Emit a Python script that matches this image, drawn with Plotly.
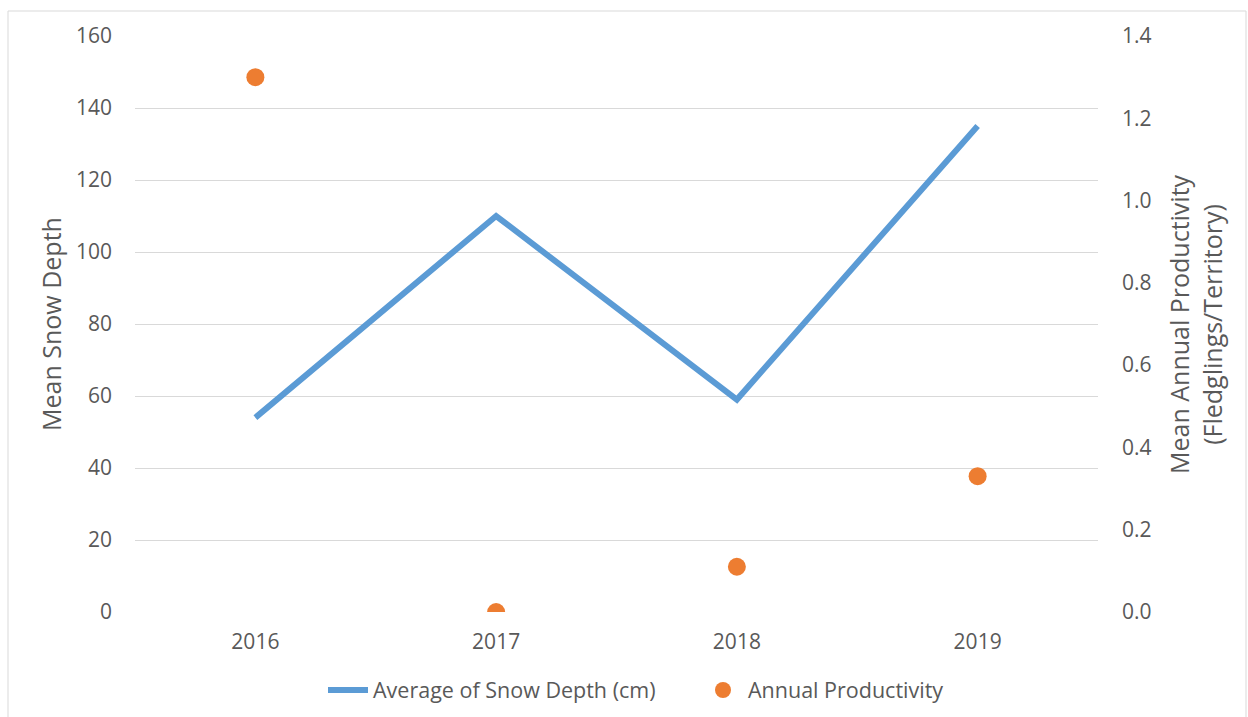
import plotly.graph_objects as go

# Survey years and measurements
years = ["2016", "2017", "2018", "2019"]
snow_depth_cm = [54, 110, 59, 135]
productivity = [1.30, 0.00, 0.11, 0.33]

left_ticks = [0, 20, 40, 60, 80, 100, 120, 140, 160]
right_ticks = [0.0, 0.2, 0.4, 0.6, 0.8, 1.0, 1.2, 1.4]

W, H = 1248, 717
ML, MR, MT = 135, 150, 36
PLOT_BOTTOM = 612
MB = H - PLOT_BOTTOM
PW, PH = W - ML - MR, H - MT - MB

FONT = "Open Sans"
GREY = "#595959"


def px_x(p):
    return (p - ML) / PW


def px_y(p):
    return (PLOT_BOTTOM - p) / PH


fig = go.Figure()

fig.add_trace(go.Scatter(
    x=years, y=snow_depth_cm, mode="lines",
    name="Average of Snow Depth (cm)",
    line=dict(color="#5B9BD5", width=6),
    yaxis="y",
))

fig.add_trace(go.Scatter(
    x=years, y=productivity, mode="markers",
    name="Annual Productivity",
    marker=dict(color="#ED7D31", size=18, line=dict(width=0)),
    yaxis="y2",
))

fig.update_layout(
    width=W, height=H,
    margin=dict(l=ML, r=MR, t=MT, b=MB, autoexpand=False),
    paper_bgcolor="white", plot_bgcolor="white",
    font=dict(family=FONT, color=GREY, size=20),
    showlegend=True,
    legend=dict(
        orientation="h", x=px_x(323), xanchor="left",
        y=px_y(690), yanchor="middle",
        font=dict(family=FONT, size=21.5, color=GREY),
        itemwidth=40, entrywidth=320, entrywidthmode="pixels",
        tracegroupgap=0,
    ),
    xaxis=dict(
        type="category", range=[-0.5, 3.5], automargin=False,
        showgrid=False, showline=False, zeroline=False,
        ticks="", tickfont=dict(size=21, color=GREY),
        ticklabelstandoff=15,
    ),
    yaxis=dict(
        range=[0, 160], tickvals=left_ticks, automargin=False,
        showgrid=True, gridcolor="#D9D9D9", gridwidth=1,
        zeroline=False, showline=False, ticks="",
        tickfont=dict(size=21, color=GREY),
        ticklabelstandoff=22,
    ),
    yaxis2=dict(
        range=[0, 1.4], tickvals=right_ticks, tickformat=".1f",
        overlaying="y", side="right", automargin=False,
        showgrid=False, zeroline=False, showline=False, ticks="",
        tickfont=dict(size=21, color=GREY),
        ticklabelstandoff=23,
    ),
    annotations=[
        dict(text="Mean Snow Depth", textangle=-90,
             xref="paper", yref="paper", x=px_x(51), y=px_y(324),
             xanchor="center", yanchor="middle", showarrow=False,
             font=dict(family=FONT, size=25, color=GREY)),
        dict(text="Mean Annual Productivity<br>(Fledglings/Territory)", textangle=-90,
             xref="paper", yref="paper", x=px_x(1195), y=px_y(324),
             xanchor="center", yanchor="middle", showarrow=False, align="center",
             font=dict(family=FONT, size=25, color=GREY)),
    ],
    shapes=[
        dict(type="rect", xref="paper", yref="paper",
             x0=px_x(8), x1=px_x(1246), y0=px_y(740), y1=px_y(11),
             line=dict(color="#D9D9D9", width=1), fillcolor="rgba(0,0,0,0)",
             layer="below"),
    ],
)

fig.write_html("out.html")
